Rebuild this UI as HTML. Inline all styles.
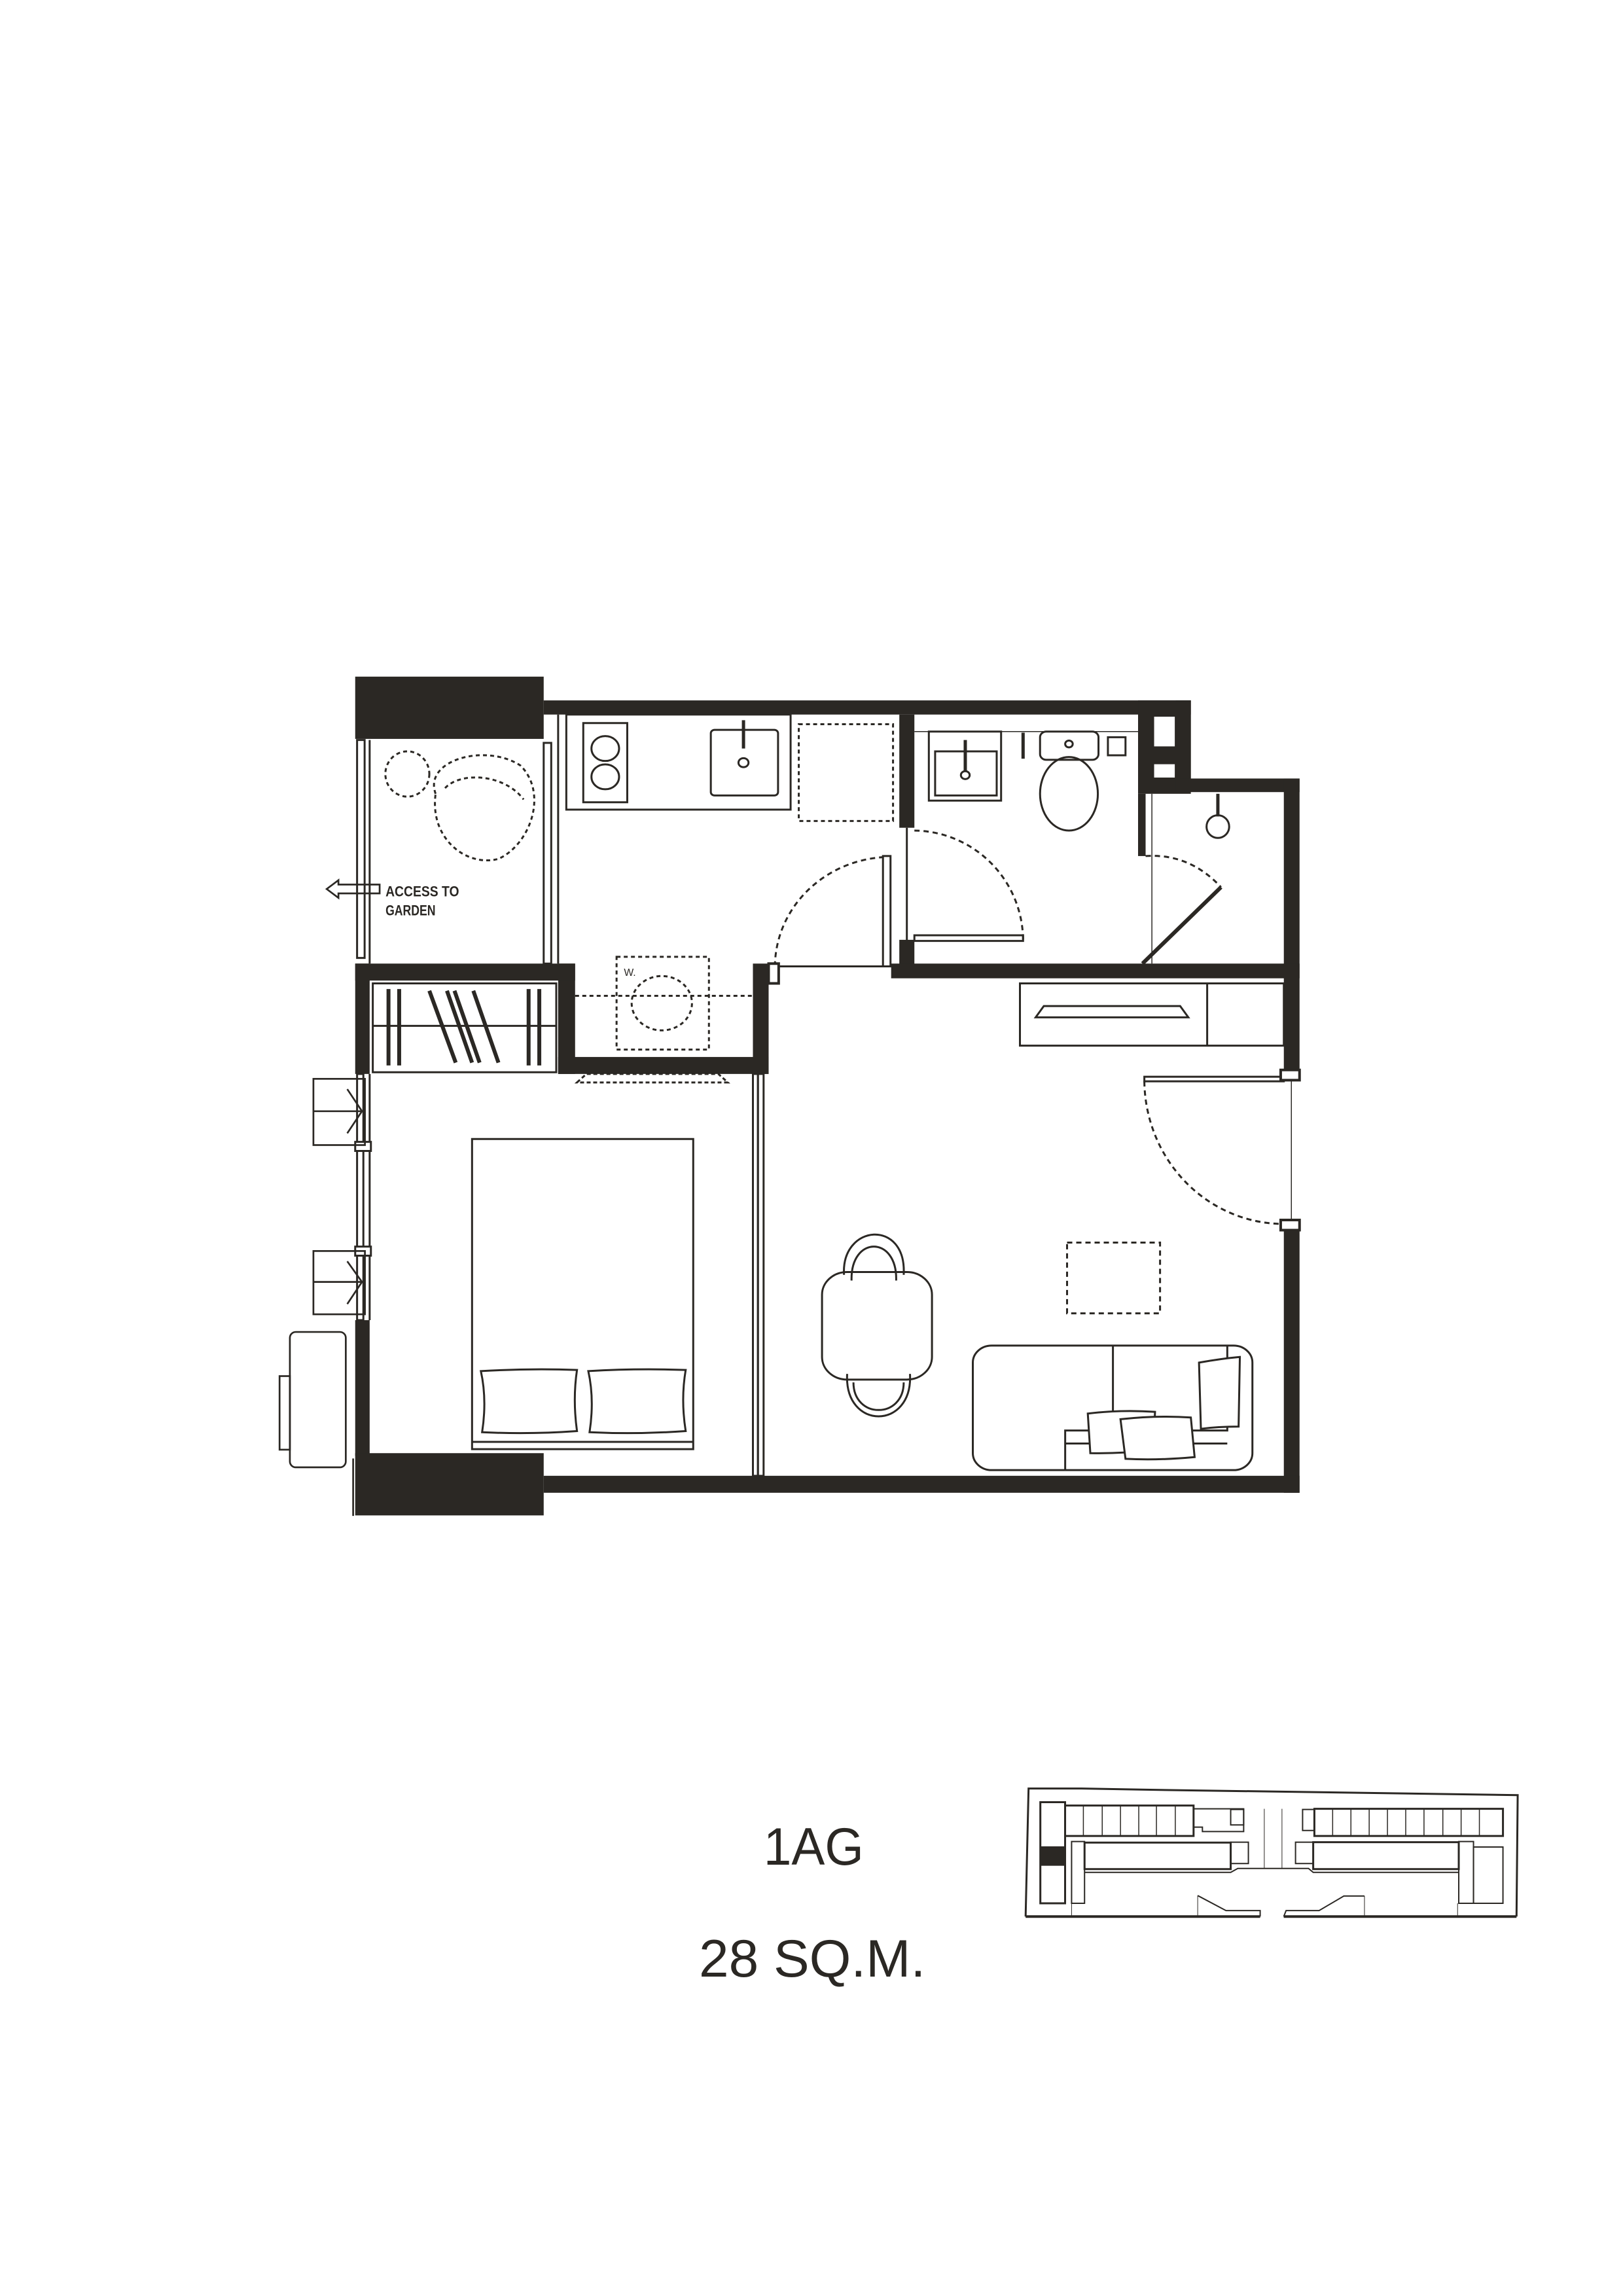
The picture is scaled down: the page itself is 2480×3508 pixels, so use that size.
<!DOCTYPE html>
<html><head><meta charset="utf-8"><style>html,body{margin:0;padding:0;background:#fff}svg{display:block}</style></head>
<body>
<svg width="2480" height="3508" viewBox="0 0 1103 1560" xmlns="http://www.w3.org/2000/svg">
<rect width="1103" height="1560" fill="#fff"/>
<g transform="translate(232,447) scale(0.427,0.3846)" fill="none" stroke="#2b2824" stroke-width="3" >
<g fill="#2b2824" stroke="none">
<rect x="22" y="33" width="300" height="110"/>
<rect x="322" y="75" width="1030" height="25"/>
<rect x="1328" y="75" width="24" height="140"/>
<rect x="1268" y="75" width="84" height="165"/>
<rect x="1328" y="213" width="197" height="24"/>
<rect x="1500" y="213" width="25" height="522"/>
<rect x="1500" y="1000" width="25" height="475"/>
<rect x="888" y="100" width="24" height="200"/>
<rect x="888" y="498" width="24" height="50"/>
<rect x="875" y="540" width="650" height="26"/>
<rect x="655" y="540" width="25" height="195"/>
<rect x="345" y="705" width="335" height="30"/>
<rect x="345" y="540" width="27" height="195"/>
<rect x="22" y="540" width="350" height="30"/>
<rect x="22" y="540" width="23" height="195"/>
<rect x="22" y="1170" width="23" height="240"/>
<rect x="22" y="1405" width="300" height="110"/>
<rect x="322" y="1445" width="1203" height="30"/>
<rect x="1268" y="240" width="12" height="110"/>
</g>
<g fill="#fff" stroke="#2b2824" stroke-width="3" vector-effect="non-scaling-stroke">
<rect x="1292" y="102" width="36" height="56" vector-effect="non-scaling-stroke"/>
<rect x="1292" y="186" width="36" height="27" vector-effect="non-scaling-stroke"/>
</g>
<g vector-effect="non-scaling-stroke">
<!-- balcony -->
<rect x="25" y="145" width="12" height="385" vector-effect="non-scaling-stroke"/>
<line x1="45" y1="145" x2="45" y2="540" vector-effect="non-scaling-stroke"/>
<rect x="322" y="150" width="12" height="390" vector-effect="non-scaling-stroke"/>
<line x1="345" y1="100" x2="345" y2="540" vector-effect="non-scaling-stroke"/>
<ellipse cx="105" cy="205" rx="35" ry="40" stroke-dasharray="6 5" vector-effect="non-scaling-stroke"/>
<path d="M150,240 C130,180 230,150 285,190 C330,240 300,330 250,355 C200,370 140,320 150,240 Z" stroke-dasharray="6 5" vector-effect="non-scaling-stroke"/>
<path d="M165,230 C190,200 260,205 290,250" stroke-dasharray="6 5" vector-effect="non-scaling-stroke"/>
<!-- kitchen -->
<rect x="358" y="100" width="357" height="168" vector-effect="non-scaling-stroke"/>
<rect x="385" y="115" width="70" height="140" vector-effect="non-scaling-stroke"/>
<circle cx="420" cy="160" r="22" vector-effect="non-scaling-stroke"/>
<circle cx="420" cy="210" r="22" vector-effect="non-scaling-stroke"/>
<rect x="588" y="127" width="107" height="116" rx="6" vector-effect="non-scaling-stroke"/>
<line x1="640" y1="110" x2="640" y2="160" stroke-width="5" vector-effect="non-scaling-stroke"/>
<circle cx="640" cy="185" r="8" vector-effect="non-scaling-stroke"/>
<rect x="728" y="117" width="150" height="171" stroke-dasharray="6 5" vector-effect="non-scaling-stroke"/>
<rect x="438" y="528" width="147" height="164" stroke-dasharray="6 5" vector-effect="non-scaling-stroke"/>
<circle cx="510" cy="610" r="48" stroke-dasharray="6 5" vector-effect="non-scaling-stroke"/>
<line x1="372" y1="597" x2="655" y2="597" stroke-dasharray="6 5" vector-effect="non-scaling-stroke"/>
<!-- kitchen door -->
<rect x="862" y="350" width="12" height="195" vector-effect="non-scaling-stroke"/>
<path d="M690,545 A185,195 0 0 1 862,352" stroke-dasharray="8 6" vector-effect="non-scaling-stroke"/>
<line x1="690" y1="545" x2="875" y2="545" vector-effect="non-scaling-stroke"/>
<rect x="680" y="540" width="16" height="35" fill="#fff" stroke-width="4" vector-effect="non-scaling-stroke"/>
<!-- bath door -->
<rect x="912" y="490" width="173" height="10" vector-effect="non-scaling-stroke"/>
<path d="M912,305 A175,195 0 0 1 1085,500" stroke-dasharray="8 6" vector-effect="non-scaling-stroke"/>
<line x1="900" y1="300" x2="900" y2="500" vector-effect="non-scaling-stroke"/>
<!-- bathroom -->
<rect x="935" y="130" width="115" height="122" vector-effect="non-scaling-stroke"/>
<rect x="945" y="165" width="98" height="78" vector-effect="non-scaling-stroke"/>
<line x1="993" y1="145" x2="993" y2="200" stroke-width="5" vector-effect="non-scaling-stroke"/>
<circle cx="993" cy="207" r="7" vector-effect="non-scaling-stroke"/>
<line x1="1085" y1="132" x2="1085" y2="178" stroke-width="5" vector-effect="non-scaling-stroke"/>
<rect x="1112" y="130" width="93" height="50" rx="10" vector-effect="non-scaling-stroke"/>
<circle cx="1158" cy="152" r="6" vector-effect="non-scaling-stroke"/>
<ellipse cx="1158" cy="240" rx="46" ry="65" vector-effect="non-scaling-stroke"/>
<rect x="1220" y="140" width="28" height="32" vector-effect="non-scaling-stroke"/>
<line x1="912" y1="130" x2="1268" y2="130" stroke-width="1.5" vector-effect="non-scaling-stroke"/>
<!-- shower -->
<line x1="1290" y1="240" x2="1290" y2="540" stroke-width="1.5" vector-effect="non-scaling-stroke"/>
<line x1="1275" y1="540" x2="1400" y2="405" stroke-width="6" vector-effect="non-scaling-stroke"/>
<path d="M1280,350 Q1350,345 1400,405" stroke-dasharray="8 6" vector-effect="non-scaling-stroke"/>
<line x1="1395" y1="240" x2="1395" y2="280" stroke-width="5" vector-effect="non-scaling-stroke"/>
<ellipse cx="1395" cy="298" rx="18" ry="20" vector-effect="non-scaling-stroke"/>
<!-- living -->
<rect x="1080" y="575" width="420" height="110" vector-effect="non-scaling-stroke"/>
<line x1="1378" y1="575" x2="1378" y2="685" vector-effect="non-scaling-stroke"/>
<path d="M1105,635 L1118,615 L1335,615 L1348,635 Z" vector-effect="non-scaling-stroke"/>
<rect x="1278" y="740" width="222" height="8" vector-effect="non-scaling-stroke"/>
<path d="M1278,748 A222,255 0 0 0 1500,1000" stroke-dasharray="8 6" vector-effect="non-scaling-stroke"/>
<line x1="1512" y1="735" x2="1512" y2="1000" stroke-width="1.5" vector-effect="non-scaling-stroke"/>
<rect x="1495" y="728" width="30" height="18" fill="#fff" stroke-width="4" vector-effect="non-scaling-stroke"/>
<rect x="1495" y="993" width="30" height="18" fill="#fff" stroke-width="4" vector-effect="non-scaling-stroke"/>
<rect x="765" y="1085" width="175" height="190" rx="40" vector-effect="non-scaling-stroke"/>
<path d="M800,1090 C795,1000 900,990 895,1090" vector-effect="non-scaling-stroke"/>
<path d="M812,1100 C810,1020 885,1020 883,1100" vector-effect="non-scaling-stroke"/>
<path d="M805,1265 C800,1365 910,1365 905,1265" vector-effect="non-scaling-stroke"/>
<path d="M815,1280 C815,1345 895,1345 895,1280" vector-effect="non-scaling-stroke"/>
<rect x="1155" y="1033" width="148" height="125" stroke-dasharray="8 6" vector-effect="non-scaling-stroke"/>
<rect x="1005" y="1215" width="445" height="220" rx="30" vector-effect="non-scaling-stroke"/>
<line x1="1228" y1="1215" x2="1228" y2="1365" vector-effect="non-scaling-stroke"/>
<path d="M1152,1435 L1152,1365 L1410,1365 L1410,1215" vector-effect="non-scaling-stroke"/>
<line x1="1152" y1="1388" x2="1410" y2="1388" vector-effect="non-scaling-stroke"/>
<path d="M1365,1245 Q1400,1238 1430,1235 L1428,1358 Q1395,1358 1368,1362 Z" fill="#fff" vector-effect="non-scaling-stroke"/>
<path d="M1188,1335 Q1240,1328 1295,1332 L1292,1400 Q1240,1406 1192,1405 Z" fill="#fff" vector-effect="non-scaling-stroke"/>
<path d="M1240,1345 Q1300,1338 1352,1342 L1358,1412 Q1300,1418 1248,1415 Z" fill="#fff" vector-effect="non-scaling-stroke"/>
<!-- bedroom -->
<rect x="655" y="735" width="8" height="710" vector-effect="non-scaling-stroke"/>
<rect x="663" y="735" width="9" height="710" vector-effect="non-scaling-stroke"/>
<path d="M375,750 L390,735 L600,735 L615,750 Z" stroke-dasharray="6 4" vector-effect="non-scaling-stroke"/>
<rect x="208" y="850" width="352" height="548" vector-effect="non-scaling-stroke"/>
<line x1="208" y1="1385" x2="560" y2="1385" vector-effect="non-scaling-stroke"/>
<path d="M222,1260 Q300,1255 375,1258 Q368,1310 375,1366 Q300,1372 224,1368 Q232,1310 222,1260 Z" vector-effect="non-scaling-stroke"/>
<path d="M393,1260 Q470,1255 548,1258 Q540,1310 548,1366 Q470,1372 395,1368 Q403,1310 393,1260 Z" vector-effect="non-scaling-stroke"/>
<!-- left window frames -->
<rect x="25" y="735" width="10" height="435" vector-effect="non-scaling-stroke"/>
<line x1="45" y1="735" x2="45" y2="1170" vector-effect="non-scaling-stroke"/>
<rect x="22" y="855" width="25" height="16" fill="#fff" vector-effect="non-scaling-stroke"/>
<rect x="22" y="1040" width="25" height="16" fill="#fff" vector-effect="non-scaling-stroke"/>
<!-- wardrobe -->
<rect x="50" y="575" width="292" height="157" vector-effect="non-scaling-stroke"/>
<line x1="50" y1="650" x2="342" y2="650" vector-effect="non-scaling-stroke"/>
<g stroke-width="6">
<line x1="75" y1="585" x2="75" y2="720" vector-effect="non-scaling-stroke"/>
<line x1="92" y1="585" x2="92" y2="720" vector-effect="non-scaling-stroke"/>
<line x1="298" y1="585" x2="298" y2="720" vector-effect="non-scaling-stroke"/>
<line x1="315" y1="585" x2="315" y2="720" vector-effect="non-scaling-stroke"/>
<line x1="140" y1="588" x2="182" y2="715" vector-effect="non-scaling-stroke"/>
<line x1="168" y1="588" x2="208" y2="715" vector-effect="non-scaling-stroke"/>
<line x1="180" y1="588" x2="220" y2="715" vector-effect="non-scaling-stroke"/>
<line x1="210" y1="588" x2="250" y2="715" vector-effect="non-scaling-stroke"/>
</g>
</g>
</g>
<text x="424" y="663" font-family="Liberation Sans, sans-serif" font-size="7" fill="#2b2824">W.</text>
<!-- outside of main plan -->
<g fill="none" stroke="#2b2824" stroke-width="1.2">
<polygon points="222,604 230,598 230,601 258,601 258,607 230,607 230,610"/>
<rect x="213" y="733" width="35" height="45"/><line x1="213" y1="755" x2="248" y2="755"/>
<polyline points="236,740 246,755 236,770"/>
<rect x="213" y="850" width="35" height="43"/><line x1="213" y1="871" x2="248" y2="871"/>
<polyline points="236,857 246,871 236,886"/>
<rect x="197" y="905" width="38" height="92" rx="4"/>
<rect x="190" y="935" width="7" height="50"/>
<line x1="240" y1="991" x2="240" y2="1030"/>
</g>
<text x="262" y="609" font-family="Liberation Sans, sans-serif" font-weight="bold" font-size="10" fill="#2b2824" textLength="50" lengthAdjust="spacingAndGlyphs">ACCESS TO</text>
<text x="262" y="622" font-family="Liberation Sans, sans-serif" font-weight="bold" font-size="10" fill="#2b2824" textLength="34" lengthAdjust="spacingAndGlyphs">GARDEN</text>
<text x="519" y="1267" font-family="Liberation Sans, sans-serif" font-size="36" fill="#2b2824" textLength="68" lengthAdjust="spacingAndGlyphs">1AG</text>
<text x="475" y="1343" font-family="Liberation Sans, sans-serif" font-size="36" fill="#2b2824" textLength="154" lengthAdjust="spacingAndGlyphs">28 SQ.M.</text>
<!-- key plan -->
<g transform="translate(444.7,1204) scale(0.4005,0.15)" fill="none" stroke="#2b2824">
<polyline points="630,655 635,75 725,75 825,80 1465,105 1463,655" stroke-width="3" vector-effect="non-scaling-stroke"/>
<line x1="630" y1="655" x2="1028" y2="655" stroke-width="4" vector-effect="non-scaling-stroke"/>
<line x1="1068" y1="655" x2="1463" y2="655" stroke-width="4" vector-effect="non-scaling-stroke"/>
<rect x="655" y="137" width="42" height="458" stroke-width="3" vector-effect="non-scaling-stroke"/>
<rect x="655" y="337" width="42" height="88" fill="#2b2824" stroke="none"/>
<rect x="697" y="152" width="218" height="138" stroke-width="3" vector-effect="non-scaling-stroke"/>
<rect x="1120" y="167" width="320" height="123" stroke-width="3" vector-effect="non-scaling-stroke"/>
<path d="M728,152V290M760,152V290M791,152V290M822,152V290M852,152V290M884,152V290M1151,167V290M1182,167V290M1213,167V290M1244,167V290M1275,167V290M1306,167V290M1338,167V290M1369,167V290M1400,167V290" stroke-width="1.5" vector-effect="non-scaling-stroke"/>
<polyline points="915,167 1000,167 1000,270 930,270 930,250 915,250" stroke-width="2" vector-effect="non-scaling-stroke"/>
<rect x="978" y="170" width="22" height="70" stroke-width="2" vector-effect="non-scaling-stroke"/>
<rect x="1100" y="170" width="20" height="95" stroke-width="2" vector-effect="non-scaling-stroke"/>
<path d="M1035,167V437M1065,167V437" stroke-width="1" vector-effect="non-scaling-stroke"/>
<rect x="730" y="320" width="248" height="120" stroke-width="3" vector-effect="non-scaling-stroke"/>
<rect x="1118" y="318" width="247" height="122" stroke-width="3" vector-effect="non-scaling-stroke"/>
<rect x="978" y="318" width="30" height="97" stroke-width="2" vector-effect="non-scaling-stroke"/>
<rect x="1088" y="318" width="30" height="97" stroke-width="2" vector-effect="non-scaling-stroke"/>
<rect x="708" y="315" width="22" height="280" stroke-width="2" vector-effect="non-scaling-stroke"/>
<rect x="1365" y="315" width="25" height="280" stroke-width="2" vector-effect="non-scaling-stroke"/>
<rect x="1390" y="340" width="50" height="255" stroke-width="2" vector-effect="non-scaling-stroke"/>
<polyline points="730,455 978,455 990,437 1110,437 1118,455 1365,455" stroke-width="2" vector-effect="non-scaling-stroke"/>
<polyline points="922,560 970,628 1028,628 1028,655" stroke-width="2" vector-effect="non-scaling-stroke"/>
<polyline points="1068,655 1072,628 1128,628 1170,562 1205,562" stroke-width="2" vector-effect="non-scaling-stroke"/>
<path d="M708,595V655M922,560V655M1205,562V655M1363,595V655" stroke-width="1" vector-effect="non-scaling-stroke"/>
</g>
</svg>
</body></html>
